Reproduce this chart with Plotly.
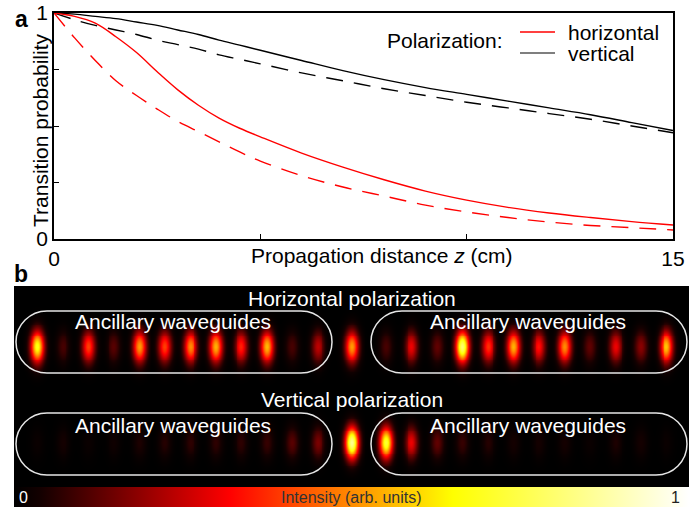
import numpy as np
import plotly.graph_objects as go

# ---------------- data: panel a ----------------
z_cm = [0, 0.5, 1, 1.5, 2, 2.5, 3, 3.5, 4, 4.5, 5, 6, 7, 8, 9, 10, 11, 12, 13, 14, 15]
horiz_solid = [1.0, 0.985, 0.955, 0.895, 0.825, 0.74, 0.66, 0.592, 0.535, 0.49, 0.452, 0.38, 0.318,
               0.262, 0.212, 0.172, 0.14, 0.115, 0.095, 0.077, 0.062]
horiz_dashed = [1.0, 0.89, 0.79, 0.70, 0.635, 0.575, 0.52, 0.475, 0.43, 0.385, 0.345, 0.28, 0.23,
                0.19, 0.15, 0.12, 0.095, 0.075, 0.06, 0.05, 0.04]
vert_solid = [1.0, 0.995, 0.985, 0.975, 0.96, 0.945, 0.925, 0.905, 0.88, 0.858, 0.835, 0.79, 0.745,
              0.705, 0.67, 0.64, 0.61, 0.58, 0.55, 0.515, 0.48]
vert_dashed = [1.0, 0.97, 0.945, 0.925, 0.905, 0.88, 0.86, 0.84, 0.815, 0.795, 0.775, 0.735, 0.70,
               0.665, 0.635, 0.605, 0.58, 0.555, 0.53, 0.50, 0.47]
x_tick_vals = [0, 5, 10, 15]
x_tick_text = ["0", "", "", "15"]
y_tick_vals = [0, 0.25, 0.5, 0.75, 1]
y_tick_text = ["0", "", "", "", "1"]

# ---------------- data: panel b (mode intensities per waveguide) ----------------
left_index = list(range(-12, 0))
right_index = list(range(1, 13))
h_left = [0.68, 0.10, 0.40, 0.12, 0.52, 0.40, 0.50, 0.55, 0.36, 0.56, 0.10, 0.24]
h_center = 0.52
h_right = [0.10, 0.30, 0.13, 0.80, 0.38, 0.55, 0.34, 0.50, 0.13, 0.30, 0.18, 0.58]
v_left = [0.02, 0.04, 0.02, 0.03, 0.05, 0.06, 0.07, 0.07, 0.07, 0.08, 0.12, 0.16]
v_center = 0.85
v_right = [0.72, 0.30, 0.13, 0.08, 0.06, 0.04, 0.04, 0.04, 0.02, 0.05, 0.04, 0.02]

W, H = 691, 509
FONT = "Arial, Liberation Sans, Helvetica, sans-serif"


def px(x):
    return x / W


def py(y):
    return 1 - y / H


fig = go.Figure()

# panel a curves
fig.add_trace(go.Scatter(x=z_cm, y=vert_solid, mode="lines", line=dict(color="black", width=1.4, shape="spline"),
                         showlegend=False, xaxis="x", yaxis="y"))
fig.add_trace(go.Scatter(x=z_cm, y=vert_dashed, mode="lines",
                         line=dict(color="black", width=1.4, dash="17px,11px", shape="spline"),
                         showlegend=False, xaxis="x", yaxis="y"))
fig.add_trace(go.Scatter(x=z_cm, y=horiz_solid, mode="lines", line=dict(color="#ff0000", width=1.4, shape="spline"),
                         showlegend=False, xaxis="x", yaxis="y"))
fig.add_trace(go.Scatter(x=z_cm, y=horiz_dashed, mode="lines",
                         line=dict(color="#ff0000", width=1.4, dash="17px,11px", shape="spline"),
                         showlegend=False, xaxis="x", yaxis="y"))

# panel b intensity image (each guided mode rendered as an elongated spot)
wg_x = np.concatenate([np.array(left_index) - 0.33, [0.0], np.array(right_index) + 0.35])
h_amp = np.concatenate([h_left, [h_center], h_right])
v_amp = np.concatenate([v_left, [v_center], v_right])
row_y = [0.0, 1.0]
gx = np.linspace(-13.4, 13.4, 700)
gy = np.linspace(-0.7, 1.5, 230)
GX, GY = np.meshgrid(gx, gy)
img = np.zeros_like(GX)
sx, sy = 0.18, 0.115
for amps, ry in zip([h_amp, v_amp], row_y):
    for xc, a in zip(wg_x, amps):
        img += a * np.exp(-((GX - xc) ** 2) / (2 * sx ** 2) - ((GY - ry) ** 2) / (2 * sy ** 2))

colorscale = [[0.0, "#000000"], [0.04, "#140000"], [0.32, "#ff0000"], [0.65, "#ffff00"], [1.0, "#ffffff"]]
fig.add_trace(go.Heatmap(
    x=gx, y=gy, z=img, zmin=0, zmax=1, colorscale=colorscale, xaxis="x2", yaxis="y2",
    hoverinfo="skip",
    colorbar=dict(orientation="h", xref="container", yref="container",
                  x=px((14 + 689) / 2), xanchor="center", y=2 / H, yanchor="bottom",
                  lenmode="pixels", len=675, thickness=20, xpad=0, ypad=0,
                  outlinewidth=0, showticklabels=False, ticks=""),
))

# ---------------- layout ----------------
axis_common = dict(showline=True, mirror=True, linecolor="black", linewidth=1.6, ticks="inside",
                   ticklen=5, tickwidth=1, tickcolor="black", showgrid=False, zeroline=False,
                   tickfont=dict(family=FONT, size=21, color="black"))
fig.update_layout(
    width=W, height=H, margin=dict(l=0, r=0, t=0, b=0, autoexpand=False),
    paper_bgcolor="white", plot_bgcolor="white",
    font=dict(family=FONT, color="black"),
    xaxis=dict(domain=[px(54), px(673)], range=[0, 15], tickvals=x_tick_vals, ticktext=x_tick_text,
               anchor="y", **axis_common),
    yaxis=dict(domain=[py(239), py(13)], range=[0, 1], tickvals=y_tick_vals, ticktext=y_tick_text,
               anchor="x", **axis_common),
    xaxis2=dict(domain=[px(14), px(689)], range=[(14 - 352) / 25.5, (689 - 352) / 25.5],
                visible=False, anchor="y2"),
    yaxis2=dict(domain=[py(487), py(286)], range=[(487 - 347) / 96, (286 - 347) / 96],
                visible=False, anchor="x2"),
    showlegend=False,
)


def stadium(l, r, t, b):
    rad = (b - t) / 2
    cy = (t + b) / 2
    k = 0.5523 * rad

    def P(x, y):
        return f"{px(x):.5f},{py(y):.5f}"
    path = (f"M{P(l + rad, t)} L{P(r - rad, t)} "
            f"C{P(r - rad + k, t)} {P(r, cy - k)} {P(r, cy)} "
            f"C{P(r, cy + k)} {P(r - rad + k, b)} {P(r - rad, b)} "
            f"L{P(l + rad, b)} "
            f"C{P(l + rad - k, b)} {P(l, cy + k)} {P(l, cy)} "
            f"C{P(l, cy - k)} {P(l + rad - k, t)} {P(l + rad, t)} Z")
    return dict(type="path", xref="paper", yref="paper", path=path,
                line=dict(color="#e6e6e6", width=1.5), fillcolor="rgba(0,0,0,0)")


shapes = [
    stadium(16, 332, 311, 373), stadium(371, 687, 311, 373),
    stadium(16, 332, 413, 475), stadium(371, 687, 413, 475),
    dict(type="line", xref="paper", yref="paper", x0=px(520), x1=px(555), y0=py(32), y1=py(32),
         line=dict(color="#ff0000", width=1.6)),
    dict(type="line", xref="paper", yref="paper", x0=px(520), x1=px(555), y0=py(53), y1=py(53),
         line=dict(color="#555555", width=1.6)),
]
fig.update_layout(shapes=shapes)


def ann(text, x, y, size=21, color="black", xanchor="center", **kw):
    return dict(text=text, x=px(x), y=py(y), xref="paper", yref="paper", showarrow=False,
                xanchor=xanchor, yanchor="middle", font=dict(family=FONT, size=size, color=color), **kw)


annotations = [
    ann("<b>a</b>", 21, 19, size=23),
    ann("<b>b</b>", 21, 274, size=23),
    ann("Transition probability", 41, 131, textangle=-90),
    ann("Propagation distance <i>z</i> (cm)", 381, 256),
    ann("Polarization:", 505, 40, xanchor="right"),
    ann("horizontal", 566, 32, xanchor="left"),
    ann("vertical", 566, 53, xanchor="left"),
    ann("Horizontal polarization", 352, 298, color="white"),
    ann("Vertical polarization", 352, 399, color="white"),
    ann("Ancillary waveguides", 173, 321, color="white"),
    ann("Ancillary waveguides", 528, 321, color="white"),
    ann("Ancillary waveguides", 173, 425, color="white"),
    ann("Ancillary waveguides", 528, 425, color="white"),
    ann("0", 23, 497, size=16, color="white"),
    ann("Intensity (arb. units)", 351, 497, size=16, color="#333333"),
    ann("1", 675, 497, size=16, color="#222222"),
]
fig.update_layout(annotations=annotations)

fig.write_html("out.html", config={"displayModeBar": False},
               post_script="document.body.style.margin='0';document.body.style.overflow='hidden';")
